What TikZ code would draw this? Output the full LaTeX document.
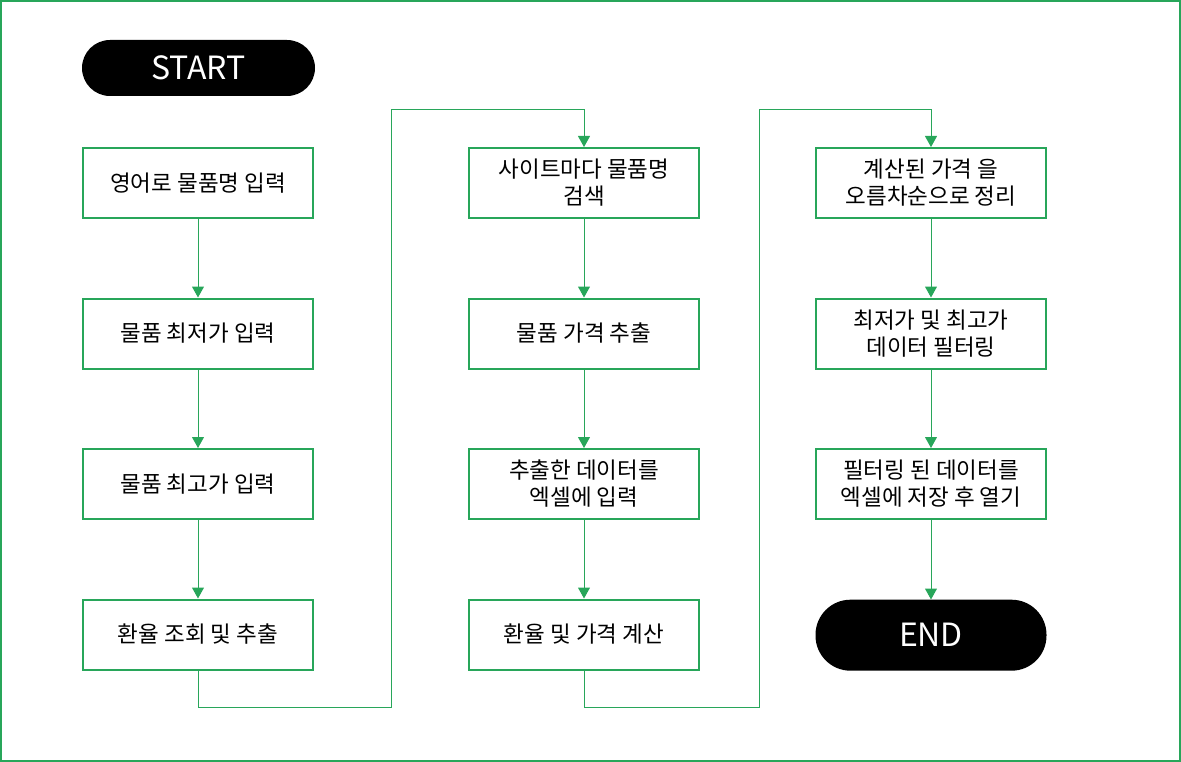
\documentclass[tikz,border=0pt]{standalone}
\usepackage{fontspec}
\setmainfont{Noto Sans CJK KR}
\usetikzlibrary{positioning,arrows.meta}
\definecolor{flowgreen}{RGB}{40,166,90}
\tikzset{
  stepbox/.style={draw=flowgreen, line width=2pt, fill=white, minimum width=230pt,
    minimum height=70pt, align=center, font=\fontsize{22.5}{27}\selectfont},
  terminal/.style={fill=black, text=white, rounded corners=28pt, minimum width=233pt,
    minimum height=56pt, font=\fontsize{32}{36}\selectfont},
  flow/.style={draw=flowgreen, line width=1pt, -{Triangle[width=12pt,length=11pt]}}
}
\begin{document}
\begin{tikzpicture}[x=1pt, y=-1pt, node distance=78.5pt]
      \useasboundingbox (0,0) rectangle (1181,762);
      \draw[flowgreen, line width=2pt] (1,1) rectangle (1180,761);
      % Define nodes
      \node[terminal]                 (start) at (198.5,68) {START};
      \node[stepbox]                  (a1) at (198,183) {영어로 물품명 입력};
      \node[stepbox, below=of a1]     (a2) {물품 최저가 입력};
      \node[stepbox, below=of a2]     (a3) {물품 최고가 입력};
      \node[stepbox, below=of a3]     (a4) {환율 조회 및 추출};
      \node[stepbox, right=154pt of a1] (b1) {사이트마다 물품명\\검색};
      \node[stepbox, below=of b1]     (b2) {물품 가격 추출};
      \node[stepbox, below=of b2]     (b3) {추출한 데이터를\\엑셀에 입력};
      \node[stepbox, below=of b3]     (b4) {환율 및 가격 계산};
      \node[stepbox, right=115pt of b1] (c1) {계산된 가격 을\\오름차순으로 정리};
      \node[stepbox, below=of c1]     (c2) {최저가 및 최고가\\데이터 필터링};
      \node[stepbox, below=of c2]     (c3) {필터링 된 데이터를\\엑셀에 저장 후 열기};
      \node[terminal, minimum height=71pt, rounded corners=35pt, minimum width=231pt,
        below=79.5pt of c3]           (end) {END};
      \coordinate (j1) at (391,110);
      \coordinate (j2) at (759,110);
      % Connect nodes
      \draw[flow] (a1) -- (a2);
      \draw[flow] (a2) -- (a3);
      \draw[flow] (a3) -- (a4);
      \draw[flow] (a4.south) -- ++(0,37) -| (j1) -| (b1.north);
      \draw[flow] (b1) -- (b2);
      \draw[flow] (b2) -- (b3);
      \draw[flow] (b3) -- (b4);
      \draw[flow] (b4.south) -- ++(0,37) -| (j2) -| (c1.north);
      \draw[flow] (c1) -- (c2);
      \draw[flow] (c2) -- (c3);
      \draw[flow] (c3) -- (end);
    \end{tikzpicture}
\end{document}
